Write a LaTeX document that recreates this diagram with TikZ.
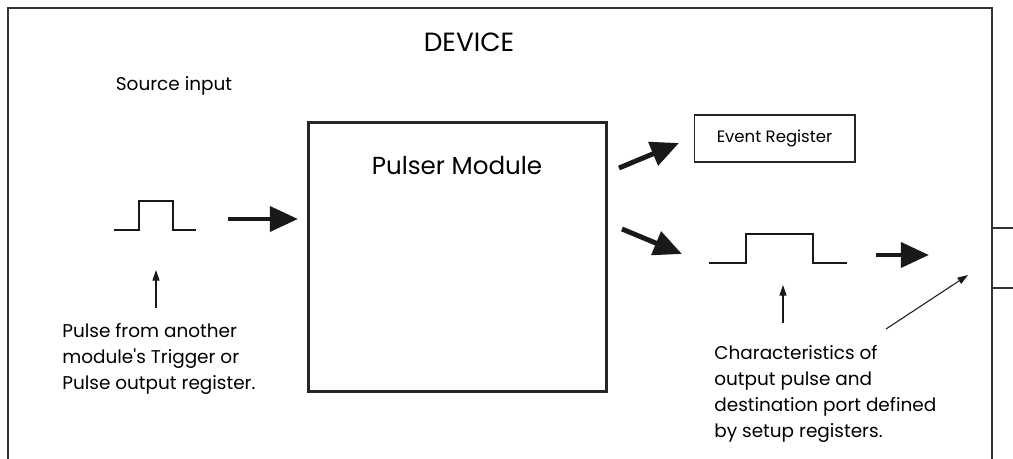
\documentclass[tikz,border=0pt]{standalone}
\usepackage{fontspec}
\setmainfont{Poppins}
\usetikzlibrary{arrows.meta, positioning}
\tikzset{
  frame/.style={draw=black!80, line width=1.1pt},
  modbox/.style={rectangle, draw=black!85, line width=1.7pt,
                 minimum width=5.98cm, minimum height=5.4cm},
  regbox/.style={rectangle, draw=black!85, line width=0.6pt,
                 minimum width=3.22cm, minimum height=0.94cm, font=\fontsize{9.4}{12}\selectfont},
  title/.style={font=\fontsize{14}{16}\selectfont, inner sep=0pt},
  note/.style={align=left, anchor=north west, inner sep=0pt,
               font=\fontsize{10.5}{14.8}\selectfont},
  pulse/.style={draw=black!90, line width=1.2pt},
  bigarrow/.style={-{Triangle[length=16pt, width=14pt]}, line width=2.8pt, draw=black!90},
  pointer/.style={-{Triangle[length=6pt, width=4pt]}, line width=0.6pt, draw=black!90},
}
\begin{document}
\begin{tikzpicture}[x=0.02cm, y=-0.02cm]
  \useasboundingbox (0,0) rectangle (1013,459);

  % device outline and output port
  \draw[frame] (8,459) -- (8,8) -- (992,8) -- (992,459);
  \draw[frame] (992,228) -- (1013,228);
  \draw[frame] (992,288) -- (1013,288);
  \node[title, font=\fontsize{15}{17}\selectfont] (device) at (469,42) {DEVICE};

  % input side
  \node[title, font=\fontsize{10.5}{13}\selectfont] (srclabel) at (174,86) {Source input};
  \draw[pulse] (114,230) -- (139,230) -- (139,201) -- (173,201) -- (173,230) -- (196,230);
  \coordinate (inpulse) at (156,270);
  \coordinate (infoot) at (156,308);
  \node[note] (innote) at (62,323)
    {Pulse from another\\module\textquotesingle s Trigger or\\Pulse output register.};

  % pulser
  \node[modbox] (pulser) at (457.5,257) {};
  \node[title] (pulsertitle) at (457,166) {Pulser Module};
  \node[regbox] (event) at (774.5,138.5) {Event Register};

  % output side
  \draw[pulse] (709,263) -- (746,263) -- (746,234) -- (813,234) -- (813,263) -- (847,263);
  \coordinate (outpulse) at (783,285);
  \coordinate (outfoot) at (783,323);
  \coordinate (port) at (968,275);
  \coordinate (portfoot) at (886,329);
  \node[note] (outnote) at (714,345)
    {Characteristics of\\output pulse and\\destination port defined\\by setup registers.};

  % arrow ends
  \coordinate (a1) at (228,219);  \coordinate (a2) at (298,219);
  \coordinate (b1) at (619,168);  \coordinate (b2) at (679,143);
  \coordinate (c1) at (622,229);  \coordinate (c2) at (682,254);
  \coordinate (d1) at (876,255);  \coordinate (d2) at (929,255);

  \draw[bigarrow] (a1) -- (a2);
  \draw[bigarrow] (b1) -- (b2);
  \draw[bigarrow] (c1) -- (c2);
  \draw[bigarrow] (d1) -- (d2);
  \draw[pointer] (infoot) -- (inpulse);
  \draw[pointer] (outfoot) -- (outpulse);
  \draw[pointer] (portfoot) -- (port);
\end{tikzpicture}
\end{document}
